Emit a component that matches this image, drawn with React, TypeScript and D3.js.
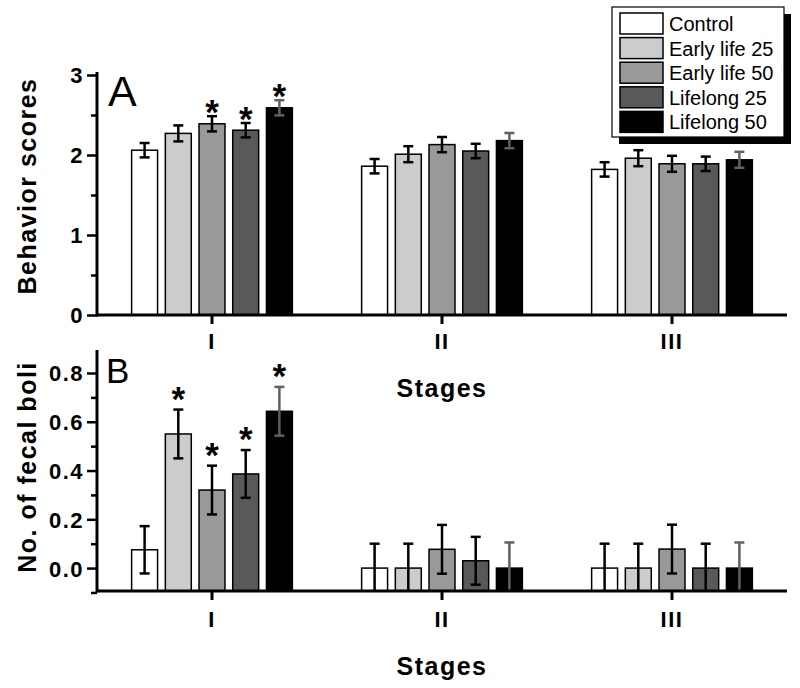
import { useEffect, useRef } from 'react'
import * as d3 from 'd3'

const stages = ['I', 'II', 'III']
const groups = ['Control', 'Early life 25', 'Early life 50', 'Lifelong 25', 'Lifelong 50']
const fills = ['#ffffff', '#cccccc', '#999999', '#595959', '#000000']
const errColors = ['#000', '#000', '#000', '#000', '#606060']

// Panel A - behavior scores, one array per group (stages I, II, III)
const behaviorMean = [
  [2.06, 1.86, 1.82],
  [2.27, 2.01, 1.96],
  [2.39, 2.13, 1.89],
  [2.31, 2.05, 1.89],
  [2.59, 2.18, 1.94],
]
const behaviorErr = [
  [0.09, 0.09, 0.09],
  [0.1, 0.1, 0.1],
  [0.095, 0.095, 0.1],
  [0.09, 0.09, 0.09],
  [0.095, 0.095, 0.1],
]
const behaviorStars = [
  [false, false, false],
  [false, false, false],
  [true, false, false],
  [true, false, false],
  [true, false, false],
]

// Panel B - fecal boli
const fecalMean = [
  [0.075, 0, 0],
  [0.55, 0, 0],
  [0.32, 0.077, 0.078],
  [0.386, 0.03, 0],
  [0.643, 0, 0],
]
const fecalErr = [
  [0.097, 0.1, 0.1],
  [0.1, 0.1, 0.1],
  [0.1, 0.1, 0.1],
  [0.098, 0.098, 0.1],
  [0.1, 0.105, 0.105],
]
const fecalStars = [
  [false, false, false],
  [true, false, false],
  [true, false, false],
  [true, false, false],
  [true, false, false],
]

const behaviorTicks = [0, 1, 2, 3]
const behaviorMinor = [0.5, 1.5, 2.5]
const fecalTicks = [0, 0.2, 0.4, 0.6, 0.8]
const fecalMinor = [-0.1, 0.1, 0.3, 0.5, 0.7]

const FONT = '"Liberation Sans", Arial, sans-serif'

export default function App() {
  const svgRef = useRef<SVGSVGElement>(null)

  useEffect(() => {
    if (!svgRef.current) return
    const svg = d3.select(svgRef.current)
    svg.selectAll('*').remove()

    const left = 97
    const right = 787

    const x0 = d3.scaleBand().domain(stages).range([left, right]).padding(0)
    const x1 = d3.scaleBand()
      .domain(groups)
      .range([0, 168.5])
      .paddingInner(0.23)
      .paddingOuter(0.115)

    const drawPanel = (opts: {
      y: d3.ScaleLinear<number, number>
      axisTop: number
      mean: number[][]
      err: number[][]
      stars: boolean[][]
      ticks: number[]
      minor: number[]
      fmt: (d: number) => string
      title: string
      titleY: number
      letter: string
      letterX: number
      letterY: number
      letterSize: number
      starOffset: number
      stageLabelY: number
      stagesTitleY: number
    }) => {
      const { y } = opts
      const [dMin] = y.domain()
      const base = y(dMin)
      const g = svg.append('g')

      // bars
      groups.forEach((grp, gi) => {
        stages.forEach((st, si) => {
          const v = opts.mean[gi][si]
          const bx = (x0(st) || 0) + x0.bandwidth() / 2 - 84.25 + (x1(grp) || 0)
          const bw = x1.bandwidth()
          g.append('rect')
            .attr('x', bx)
            .attr('y', y(v))
            .attr('width', bw)
            .attr('height', base - y(v))
            .attr('fill', fills[gi])
            .attr('stroke', '#000')
            .attr('stroke-width', 1.5)

          const cx = bx + bw / 2
          const e = opts.err[gi][si]
          const hi = v + e
          const lo = Math.max(v - e, dMin)
          g.append('line')
            .attr('x1', cx).attr('x2', cx)
            .attr('y1', y(hi)).attr('y2', y(lo))
            .attr('stroke', errColors[gi]).attr('stroke-width', 2.5)
          g.append('line')
            .attr('x1', cx - 5).attr('x2', cx + 5)
            .attr('y1', y(hi)).attr('y2', y(hi))
            .attr('stroke', errColors[gi]).attr('stroke-width', 2.5)
          if (v - e > dMin) {
            g.append('line')
              .attr('x1', cx - 5).attr('x2', cx + 5)
              .attr('y1', y(lo)).attr('y2', y(lo))
              .attr('stroke', errColors[gi]).attr('stroke-width', 2.5)
          }
          if (opts.stars[gi][si]) {
            g.append('text')
              .attr('x', cx)
              .attr('y', y(hi) + opts.starOffset)
              .attr('text-anchor', 'middle')
              .style('font-family', FONT)
              .style('font-weight', 'bold')
              .style('font-size', '35px')
              .text('*')
          }
        })
      })

      // y axis ticks
      const yAxis = g.append('g').attr('transform', `translate(${left},0)`)
      yAxis.call(
        d3.axisLeft(y).tickValues(opts.ticks).tickSize(10).tickSizeOuter(0).tickFormat(d => opts.fmt(d as number))
      )
      yAxis.select('.domain').remove()
      yAxis.selectAll('line').attr('stroke', '#000').attr('stroke-width', 2.5)
      yAxis.selectAll('text')
        .attr('x', -13)
        .attr('dy', '0.36em')
        .style('font-family', FONT)
        .style('font-weight', 'bold')
        .style('font-size', '22px')
        .style('letter-spacing', '1.5px')
        .attr('fill', '#000')

      const yMinor = g.append('g').attr('transform', `translate(${left},0)`)
      yMinor.call(d3.axisLeft(y).tickValues(opts.minor).tickSize(6).tickSizeOuter(0).tickFormat(() => ''))
      yMinor.select('.domain').remove()
      yMinor.selectAll('line').attr('stroke', '#000').attr('stroke-width', 2.5)

      // x axis ticks
      const xAxis = g.append('g').attr('transform', `translate(0,${base})`)
      xAxis.call(d3.axisBottom(x0).tickSize(9).tickSizeOuter(0))
      xAxis.select('.domain').remove()
      xAxis.selectAll('line').attr('stroke', '#000').attr('stroke-width', 3)
      xAxis.selectAll('text')
        .attr('y', opts.stageLabelY - base)
        .attr('dy', 0)
        .style('font-family', FONT)
        .style('font-weight', 'bold')
        .style('font-size', '22px')
        .style('letter-spacing', '1.5px')
        .attr('fill', '#000')

      // axis lines
      g.append('line')
        .attr('x1', left).attr('x2', left)
        .attr('y1', opts.axisTop).attr('y2', base + 1.5)
        .attr('stroke', '#000').attr('stroke-width', 3)
      g.append('line')
        .attr('x1', left).attr('x2', right)
        .attr('y1', base).attr('y2', base)
        .attr('stroke', '#000').attr('stroke-width', 3)

      // titles
      g.append('text')
        .attr('transform', `translate(36,${opts.titleY}) rotate(-90)`)
        .attr('text-anchor', 'middle')
        .style('font-family', FONT)
        .style('font-weight', 'bold')
        .style('font-size', '25px')
        .style('letter-spacing', '1.5px')
        .text(opts.title)

      g.append('text')
        .attr('x', (left + right) / 2)
        .attr('y', opts.stagesTitleY)
        .attr('text-anchor', 'middle')
        .style('font-family', FONT)
        .style('font-weight', 'bold')
        .style('font-size', '25px')
        .style('letter-spacing', '1.5px')
        .text('Stages')

      g.append('text')
        .attr('x', opts.letterX)
        .attr('y', opts.letterY)
        .style('font-family', FONT)
        .style('font-size', `${opts.letterSize}px`)
        .text(opts.letter)
    }

    drawPanel({
      y: d3.scaleLinear().domain([0, 3]).range([315, 75]),
      axisTop: 72,
      mean: behaviorMean,
      err: behaviorErr,
      stars: behaviorStars,
      ticks: behaviorTicks,
      minor: behaviorMinor,
      fmt: d => d3.format('d')(d),
      title: 'Behavior scores',
      titleY: 186,
      letter: 'A',
      letterX: 108,
      letterY: 106,
      letterSize: 43,
      starOffset: 8,
      stageLabelY: 349,
      stagesTitleY: 397,
    })

    drawPanel({
      y: d3.scaleLinear().domain([-0.094, 0.8]).range([591, 373]),
      axisTop: 350,
      mean: fecalMean,
      err: fecalErr,
      stars: fecalStars,
      ticks: fecalTicks,
      minor: fecalMinor,
      fmt: d => d3.format('.1f')(d),
      title: 'No. of fecal boli',
      titleY: 467,
      letter: 'B',
      letterX: 106,
      letterY: 383,
      letterSize: 35,
      starOffset: 1,
      stageLabelY: 627,
      stagesTitleY: 675,
    })

    // legend
    const lg = svg.append('g')
    lg.append('rect')
      .attr('x', 619).attr('y', 14).attr('width', 172).attr('height', 130)
      .attr('fill', '#000')
    lg.append('rect')
      .attr('x', 612).attr('y', 7).attr('width', 172).attr('height', 130)
      .attr('fill', '#fff').attr('stroke', '#000').attr('stroke-width', 1.2)
    groups.forEach((grp, i) => {
      const ry = 13 + i * 24.6
      lg.append('rect')
        .attr('x', 620).attr('y', ry).attr('width', 43).attr('height', 21)
        .attr('fill', fills[i]).attr('stroke', '#000').attr('stroke-width', 1.5)
      lg.append('text')
        .attr('x', 669).attr('y', ry + 18)
        .style('font-family', FONT)
        .style('font-size', '20px')
        .text(grp)
    })
  }, [])

  return (
    <svg
      ref={svgRef}
      width={800}
      height={688}
      style={{ position: 'absolute', left: 0, top: 0, background: '#fff' }}
    />
  )
}
